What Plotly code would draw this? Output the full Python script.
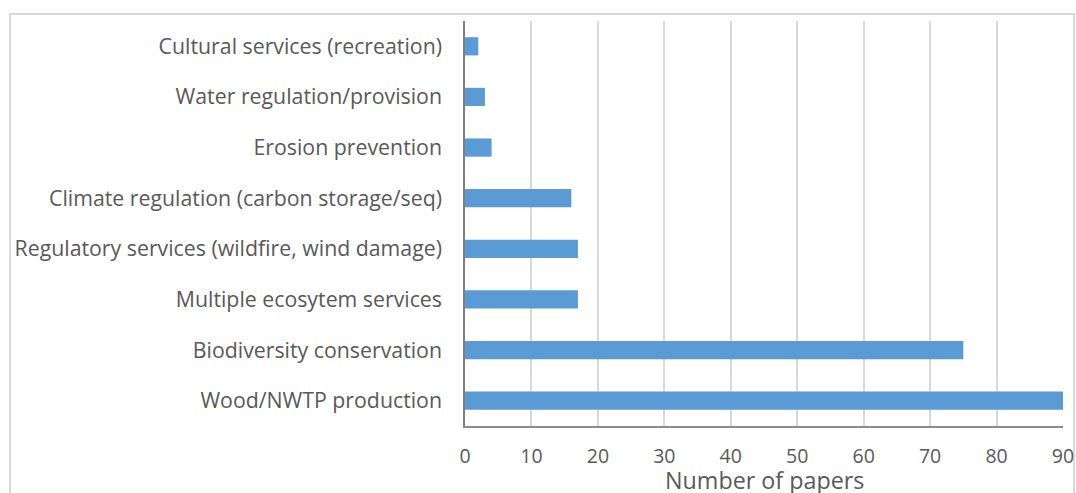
import plotly.graph_objects as go

categories = [
    "Wood/NWTP production",
    "Biodiversity conservation",
    "Multiple ecosytem services",
    "Regulatory services (wildfire, wind damage)",
    "Climate regulation (carbon storage/seq)",
    "Erosion prevention",
    "Water regulation/provision",
    "Cultural services (recreation)",
]
papers = [90, 75, 17, 17, 16, 4, 3, 2]
x_ticks = [0, 10, 20, 30, 40, 50, 60, 70, 80, 90]

W, H = 1076, 493
L, R, T, B = 465, 1063, 21, 426

fig = go.Figure(go.Bar(
    x=papers, y=categories, orientation="h",
    marker=dict(color="#5B9BD5", line=dict(width=0)),
    width=0.36,
))

FONT = "'Open Sans', sans-serif"
TXT = "#595959"

fig.update_layout(
    width=W, height=H,
    margin=dict(l=L, r=W - R, t=T, b=H - B, pad=0),
    paper_bgcolor="white", plot_bgcolor="white",
    showlegend=False,
    font=dict(family=FONT, color=TXT, size=20),
    xaxis=dict(
        range=[0, 90], tickvals=x_ticks, ticktext=[str(v) for v in x_ticks],
        showgrid=True, gridcolor="#D9D9D9", gridwidth=1.5,
        zeroline=False, showline=True, linecolor="#8C8C8C", linewidth=1.5,
        ticks="outside", ticklen=12, tickcolor="rgba(0,0,0,0)",
        tickfont=dict(size=19.5, color=TXT, family=FONT),
        automargin=False, fixedrange=True,
    ),
    yaxis=dict(
        type="category", categoryorder="array", categoryarray=categories,
        range=[-0.5, 7.5],
        showgrid=False, zeroline=False,
        showline=True, linecolor="#7F7F7F", linewidth=1.5,
        ticks="outside", ticklen=17, tickcolor="rgba(0,0,0,0)",
        tickfont=dict(size=21.3, color=TXT, family=FONT),
        automargin=False, fixedrange=True,
    ),
    annotations=[dict(
        text="Number of papers", x=0.5, xref="paper",
        y=(B - 480) / (B - T), yref="paper",
        xanchor="center", yanchor="middle", showarrow=False,
        font=dict(size=23.3, color=TXT, family=FONT),
    )],
    shapes=[dict(
        type="rect", xref="paper", yref="paper",
        x0=(10 - L) / (R - L), x1=(1074 - L) / (R - L),
        y0=(B - 520) / (B - T), y1=(B - 14) / (B - T),
        line=dict(color="#D9D9D9", width=2), fillcolor="rgba(0,0,0,0)",
        layer="below",
    )],
)

fig.write_html(
    "out.html",
    config={"displayModeBar": False},
    post_script="document.body.style.margin='0';document.body.style.overflow='hidden';",
)
